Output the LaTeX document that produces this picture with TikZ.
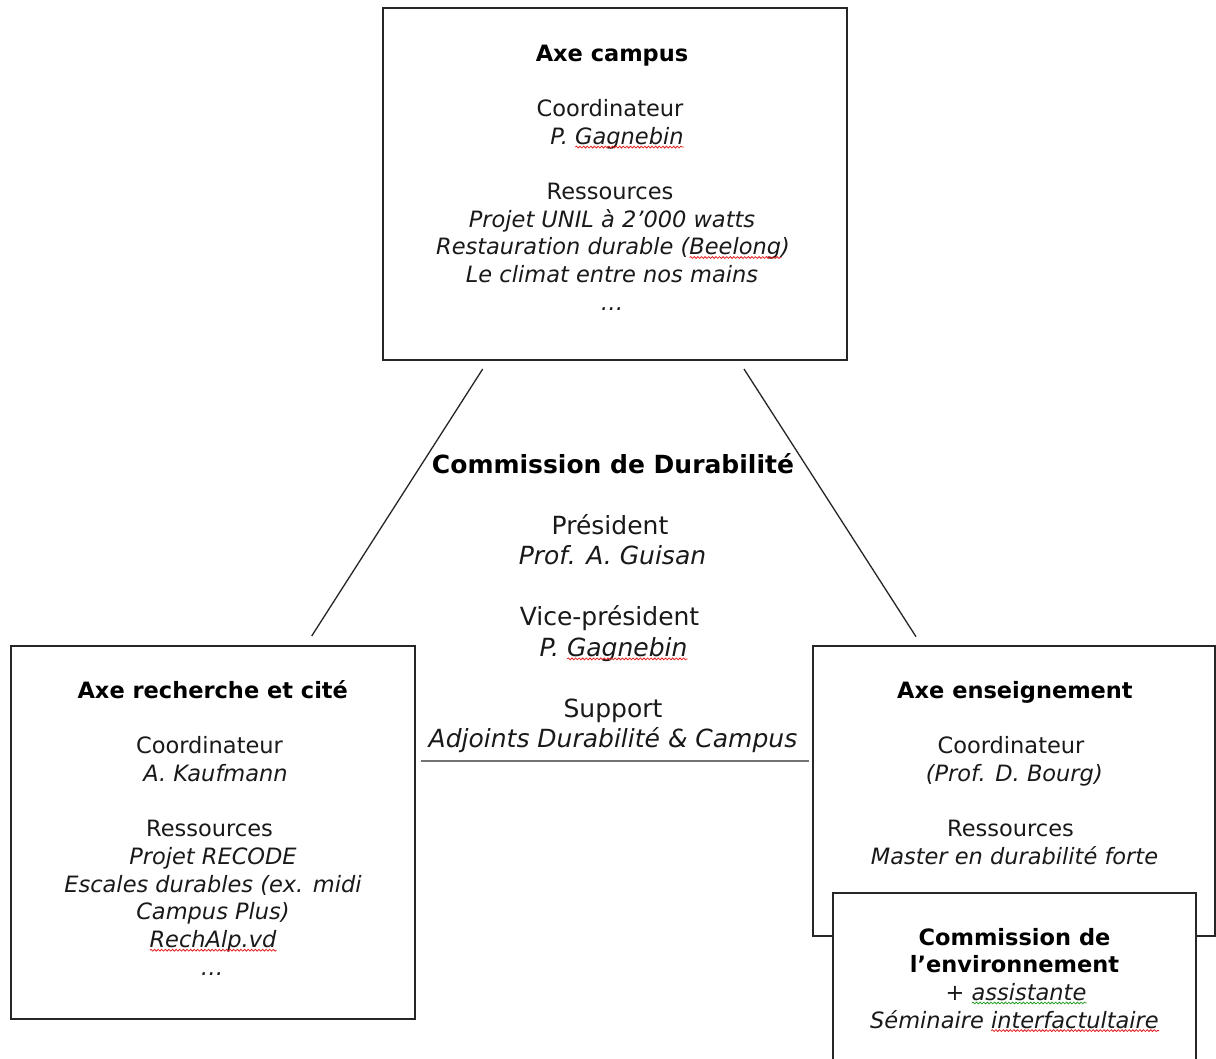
\documentclass[tikz,border=0pt]{standalone}
\usepackage{fontspec}
\setmainfont{DejaVu Sans}
\usetikzlibrary{decorations.pathmorphing}
\newcommand\fs{\fontsize{22.5}{27.7}\selectfont}
\newcommand\fm{\fontsize{25}{30.5}\selectfont}
% measure a word (#3) and the text after it (#4) in font #2, store as \<#1>w and \<#1>s
\newcommand\measureword[4]{%
  \setbox0\hbox{#2#3}\setbox2\hbox{#2#4}%
  \expandafter\xdef\csname #1w\endcsname{\the\wd0}%
  \expandafter\xdef\csname #1s\endcsname{\the\dimexpr\wd0+\wd2\relax}%
}
% squiggle under a measured word that ends node #1
\newcommand\mysquig[3]{%
  \draw[squig, draw=#2] ([xshift=-\csname #3s\endcsname, yshift=-2.6pt]#1.base east) -- ++(\csname #3w\endcsname,0pt);
}
\tikzset{
  boxnode/.style={draw=black!85, line width=1.6pt, fill=white, inner sep=0pt, rectangle},
  txt/.style={anchor=base, inner sep=0pt, text=black!90, font=\fs},
  txtit/.style={txt, font=\fs\itshape},
  txtbf/.style={txt, text=black, font=\fs\bfseries},
  mtxt/.style={anchor=base, inner sep=0pt, text=black!90, font=\fm},
  mtxtit/.style={mtxt, font=\fm\itshape},
  mtxtbf/.style={mtxt, text=black, font=\fm\bfseries},
  link/.style={draw=black!85, line width=1.3pt},
  rule/.style={draw=black!55, line width=2.6pt},
  squig/.style={line width=0.8pt, decorate, decoration={snake, segment length=3.6pt, amplitude=0.9pt}}
}
\definecolor{spellred}{RGB}{230,30,30}
\definecolor{spellgreen}{RGB}{40,160,40}
\begin{document}
\measureword{gagA}{\fs\itshape}{Gagnebin}{}%
\measureword{beel}{\fs\itshape}{Beelong}{)}%
\measureword{gagB}{\fm\itshape}{Gagnebin}{}%
\measureword{rech}{\fs\itshape}{RechAlp.vd}{}%
\measureword{assi}{\fs\itshape}{assistante}{}%
\measureword{inter}{\fs\itshape}{interfactultaire}{}%
\begin{tikzpicture}[x=1pt,y=-1pt]
\useasboundingbox (0,0) rectangle (1216,1059);
\clip (0,0) rectangle (1216,1059);
\fill[white] (0,0) rectangle (1216,1059);

% boxes
\node[boxnode, minimum width=464pt, minimum height=352pt] (campus) at (615,184) {};
\node[boxnode, minimum width=404pt, minimum height=373pt] (rech) at (212.8,832.5) {};
\node[boxnode, minimum width=402pt, minimum height=290pt] (ens) at (1014,791) {};
\node[boxnode, minimum width=363pt, minimum height=187pt] (env) at (1014.5,986.5) {};

% connectors
\coordinate (l1) at (482.7,369);
\coordinate (l2) at (311.7,636);
\coordinate (r1) at (744,369);
\coordinate (r2) at (916,636.7);
\coordinate (h1) at (421,761);
\coordinate (h2) at (809,761);
\draw[link] (l1) -- (l2);
\draw[link] (r1) -- (r2);
\draw[rule] (h1) -- (h2);

% Axe campus
\node[txtbf] (top1) at (612,61.7) {Axe campus};
\node[txt] (top2) at (610,116.9) {Coordinateur};
\node[txtit] (top3) at (617,144.5) {P. Gagnebin};
\node[txt] (top4) at (610,199.7) {Ressources};
\node[txtit] (top5) at (612,227.3) {Projet UNIL à 2’000 watts};
\node[txtit] (top6) at (613,254.9) {Restauration durable (Beelong)};
\node[txtit] (top7) at (612,282.5) {Le climat entre nos mains};
\node[txtit] (top8) at (612,310.1) {…};
\mysquig{top3}{spellred}{gagA}
\mysquig{top6}{spellred}{beel}

% Commission de Durabilite
\node[mtxtbf] (mid1) at (613,473.3) {Commission de Durabilité};
\node[mtxt] (mid2) at (610,534.3) {Président};
\node[mtxtit] (mid3) at (612.5,564.8) {Prof. A. Guisan};
\node[mtxt] (mid4) at (609.5,625.8) {Vice-président};
\node[mtxtit] (mid5) at (613.5,656.3) {P. Gagnebin};
\node[mtxt] (mid6) at (613,717.3) {Support};
\node[mtxtit] (mid7) at (613,747.8) {Adjoints Durabilité \& Campus};
\mysquig{mid5}{spellred}{gagB}

% Axe recherche et cite
\node[txtbf] (rec1) at (212.8,698.3) {Axe recherche et cité};
\node[txt] (rec2) at (209.5,753.7) {Coordinateur};
\node[txtit] (rec3) at (215.5,781.4) {A. Kaufmann};
\node[txt] (rec4) at (209.5,836.8) {Ressources};
\node[txtit] (rec5) at (213,864.5) {Projet RECODE};
\node[txtit] (rec6) at (213,892.2) {Escales durables (ex. midi};
\node[txtit] (rec7) at (213,919.9) {Campus Plus)};
\node[txtit] (rec8) at (213,947.6) {RechAlp.vd};
\node[txtit] (rec9) at (212,975.3) {…};
\mysquig{rec8}{spellred}{rech}

% Axe enseignement
\node[txtbf] (ens1) at (1015,698.3) {Axe enseignement};
\node[txt] (ens2) at (1011,753.7) {Coordinateur};
\node[txtit] (ens3) at (1014.3,781.4) {(Prof. D. Bourg)};
\node[txt] (ens4) at (1010.5,836.8) {Ressources};
\node[txtit] (ens5) at (1014.5,864.5) {Master en durabilité forte};

% Commission de l'environnement
\node[txtbf] (env1) at (1014.5,945) {Commission de};
\node[txtbf] (env2) at (1014.5,972.7) {l’environnement};
\node[txt] (env3) at (1016,1000.4) {+ \textit{assistante}};
\node[txtit] (env4) at (1014.5,1028) {Séminaire interfactultaire};
\mysquig{env3}{spellgreen}{assi}
\mysquig{env4}{spellred}{inter}
\end{tikzpicture}
\end{document}
